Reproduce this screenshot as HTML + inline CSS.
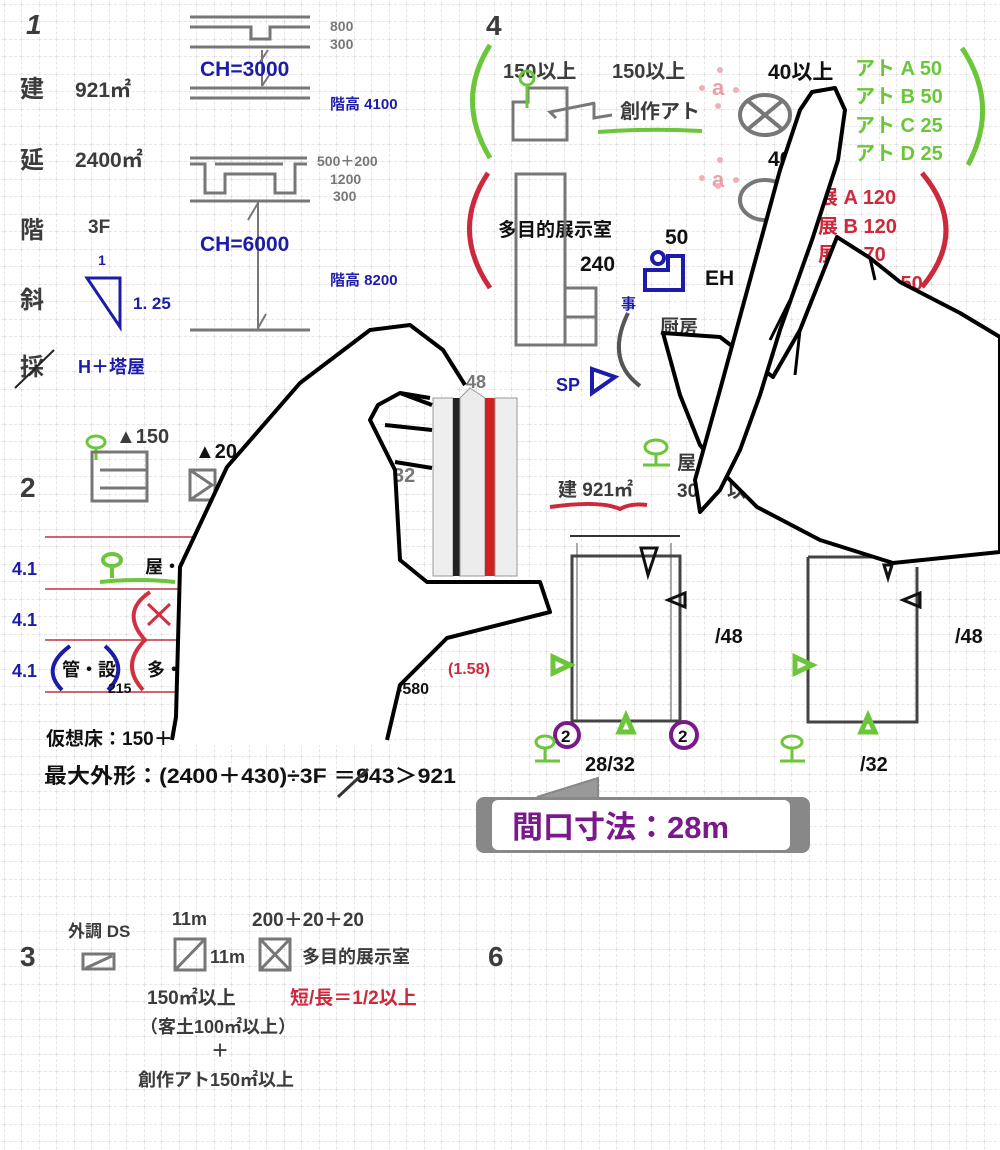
<!DOCTYPE html>
<html><head><meta charset="utf-8"><style>
html,body{margin:0;padding:0;background:#fff}
svg{display:block}
text{font-family:"Liberation Sans","Noto Sans CJK JP",sans-serif;font-weight:bold}
.d{fill:#3c3c3c}.b{fill:#1c1ca8}.g{fill:#6cc63a}.r{fill:#cc2a3c}.k{fill:#111}
.ln{stroke:#777;stroke-width:3;fill:none}
</style></head><body>
<svg width="1000" height="1150" viewBox="0 0 1000 1150" xmlns="http://www.w3.org/2000/svg">
<defs>
<pattern id="grid" x="4" y="4" width="17.5" height="17.5" patternUnits="userSpaceOnUse">
<path d="M0 0H17.5M0 0V17.5" stroke="#cfcfcf" stroke-width="1" stroke-dasharray="3 2" fill="none"/>
</pattern>
</defs>
<rect width="1000" height="1150" fill="#fff"/>
<rect width="1000" height="1150" fill="url(#grid)"/>

<!-- Section 1 -->
<text x="26" y="34" font-size="28" class="d" font-style="italic">1</text>
<text x="20" y="97" font-size="24" class="d">建</text><text x="75" y="97" font-size="21" class="d">921㎡</text>
<text x="20" y="168" font-size="24" class="d">延</text><text x="75" y="167" font-size="21" class="d">2400㎡</text>
<text x="20" y="238" font-size="24" class="d">階</text><text x="88" y="233" font-size="19" class="d">3F</text>
<text x="20" y="308" font-size="24" class="d">斜</text>
<text x="98" y="265" font-size="14" class="b">1</text>
<polygon points="87,278 120,278 120,327" fill="none" stroke="#1c1ca8" stroke-width="3"/>
<text x="133" y="309" font-size="17" class="b">1. 25</text>
<text x="20" y="375" font-size="24" class="d">採</text>
<line x1="15" y1="388" x2="54" y2="350" stroke="#222" stroke-width="2"/>
<text x="78" y="373" font-size="18" class="b">H＋塔屋</text>

<path class="ln" d="M190 17H310M190 27H251V39H270V27H310M190 47H310M190 88H310M190 98H310"/>
<path d="M268 50L260 62M262 50V86M262 86L270 74" stroke="#777" stroke-width="2" fill="none"/>
<text x="200" y="76" font-size="21" class="b">CH=3000</text>
<text x="330" y="31" font-size="14" fill="#777" font-weight="bold">800</text>
<text x="330" y="49" font-size="14" fill="#777" font-weight="bold">300</text>
<text x="330" y="109" font-size="15" class="b">階高 4100</text>

<path class="ln" d="M190 158H307M215 164H283M190 164H205V193H225V174H275V193H295V164H307M190 201H310M190 330H310"/>
<path d="M258 201V330M258 203L248 220M258 328L266 314" stroke="#777" stroke-width="2" fill="none"/>
<text x="200" y="251" font-size="21" class="b">CH=6000</text>
<text x="317" y="166" font-size="14" fill="#777" font-weight="bold">500＋200</text>
<text x="330" y="184" font-size="14" fill="#777" font-weight="bold">1200</text>
<text x="333" y="201" font-size="14" fill="#777" font-weight="bold">300</text>
<text x="330" y="285" font-size="15" class="b">階高 8200</text>

<!-- Section 4 -->
<text x="486" y="35" font-size="28" class="d">4</text>
<path d="M490 45Q455 100 490 158" stroke="#6cc63a" stroke-width="5" fill="none"/>
<path d="M962 48Q1000 105 968 165" stroke="#6cc63a" stroke-width="5" fill="none"/>
<path d="M488 173Q450 230 490 288" stroke="#cc2a3c" stroke-width="5" fill="none"/>
<path d="M922 173Q970 230 922 287" stroke="#cc2a3c" stroke-width="5" fill="none"/>
<text x="503" y="78" font-size="20" class="d">150以上</text>
<text x="612" y="78" font-size="20" class="d">150以上</text>
<path class="ln" d="M528 88H567V140H513V102H528Z"/>
<path d="M520 78a7 7 0 1 0 14 0a7 7 0 1 0 -14 0M527 85V108" stroke="#6cc63a" stroke-width="3" fill="none"/>
<path d="M595 103L550 112L556 118M594 103V118L612 115" class="ln"/>
<text x="620" y="118" font-size="20" class="d">創作アト</text>
<path d="M598 132Q650 128 702 131" stroke="#6cc63a" stroke-width="4" fill="none"/>
<text x="712" y="95" font-size="22" fill="#e8a0a8" font-weight="bold">a</text>
<circle cx="702" cy="88" r="3" fill="#f0b0b8"/><circle cx="720" cy="70" r="3" fill="#f0b0b8"/><circle cx="736" cy="90" r="3" fill="#f0b0b8"/><circle cx="718" cy="106" r="3" fill="#f0b0b8"/>
<ellipse cx="765" cy="115" rx="25" ry="20" stroke="#777" stroke-width="4" fill="none"/>
<path d="M748 101L782 129M782 101L748 129" stroke="#777" stroke-width="4"/>
<text x="768" y="79" font-size="21" class="k">40以上</text>
<text x="855" y="75" font-size="20" class="g">アト A 50</text>
<text x="855" y="103" font-size="20" class="g">アト B 50</text>
<text x="855" y="132" font-size="20" class="g">アト C 25</text>
<text x="855" y="160" font-size="20" class="g">アト D 25</text>
<text x="768" y="166" font-size="21" class="k">40以上</text>
<text x="712" y="187" font-size="22" fill="#e8a0a8" font-weight="bold">a</text>
<circle cx="702" cy="178" r="3" fill="#f0b0b8"/><circle cx="720" cy="160" r="3" fill="#f0b0b8"/><circle cx="736" cy="180" r="3" fill="#f0b0b8"/><circle cx="718" cy="186" r="3" fill="#f0b0b8"/>
<ellipse cx="765" cy="200" rx="25" ry="20" stroke="#777" stroke-width="4" fill="none"/>
<text x="818" y="204" font-size="20" class="r">展 A 120</text>
<text x="818" y="233" font-size="20" class="r">展 B 120</text>
<text x="818" y="261" font-size="20" class="r">展 C 70</text>
<text x="855" y="290" font-size="20" class="r">展 D 50</text>
<text x="498" y="236" font-size="19" class="k">多目的展示室</text>
<path class="ln" d="M516 174H565V345H516ZM566 288H596V345H566M566 317H596"/>
<text x="665" y="244" font-size="21" class="k">50</text>
<text x="580" y="271" font-size="21" class="k">240</text>
<circle cx="658" cy="258" r="6" stroke="#1c1ca8" stroke-width="4" fill="none"/>
<path d="M645 270H668V256H683V290H645Z" stroke="#1c1ca8" stroke-width="4" fill="none"/>
<text x="705" y="285" font-size="21" class="k">EH</text>
<text x="621" y="309" font-size="15" class="b">事</text>
<path d="M628 313Q605 360 640 386" stroke="#555" stroke-width="4" fill="none"/>
<text x="660" y="333" font-size="19" class="d">厨房</text>
<text x="556" y="391" font-size="18" class="b">SP</text>
<polygon points="592,369 615,377 592,393" fill="none" stroke="#1c1ca8" stroke-width="4"/>

<!-- Section 2 -->
<text x="20" y="497" font-size="28" class="d">2</text>
<path d="M87 442a9 6 0 1 0 18 0a9 6 0 1 0 -18 0M96 448V460" stroke="#6cc63a" stroke-width="3" fill="none"/>
<text x="116" y="443" font-size="20" class="d">▲150</text>
<path class="ln" d="M92 452H147V501H92ZM100 470H147M100 488H147"/>
<text x="195" y="458" font-size="20" class="k">▲20</text>
<path class="ln" d="M190 470H215V500H190ZM190 470L212 485L190 500"/>
<text x="393" y="482" font-size="20" fill="#777" font-weight="bold">32</text>
<path d="M45 537H200M45 589H200M45 640H200M45 692H200" stroke="#c03040" stroke-width="1.5"/>
<text x="12" y="575" font-size="18" class="b">4.1</text>
<text x="12" y="626" font-size="18" class="b">4.1</text>
<text x="12" y="677" font-size="18" class="b">4.1</text>
<path d="M103 560a9 6 0 1 0 18 0a9 6 0 1 0 -18 0M112 566V578M100 582Q140 578 175 582" stroke="#6cc63a" stroke-width="4" fill="none"/>
<text x="145" y="573" font-size="18" class="k">屋・</text>
<path d="M150 592Q120 612 145 640Q120 665 143 690" stroke="#d03040" stroke-width="4" fill="none"/>
<path d="M148 604L170 625M170 604L148 625" stroke="#d03040" stroke-width="3"/>
<path d="M70 646Q40 668 62 690" stroke="#1c1ca8" stroke-width="4" fill="none"/>
<path d="M105 646Q130 668 108 690" stroke="#1c1ca8" stroke-width="4" fill="none"/>
<text x="62" y="676" font-size="18" class="k">管・設</text>
<text x="108" y="693" font-size="14" class="k">215</text>
<text x="147" y="676" font-size="18" class="k">多・展</text>
<text x="448" y="674" font-size="16" class="r">(1.58)</text>
<text x="393" y="694" font-size="16" class="k">=580</text>
<text x="46" y="745" font-size="19" class="k">仮想床：150＋200</text>
<text x="362" y="745" font-size="19" class="k">0</text>
<text x="44" y="783" font-size="21" class="k" textLength="412" lengthAdjust="spacingAndGlyphs">最大外形：(2400＋430)÷3F ＝943＞921</text>
<line x1="338" y1="797" x2="368" y2="769" stroke="#333" stroke-width="3"/>

<!-- Section 5 right -->
<path d="M645 447a11 7 0 1 0 22 0a11 7 0 1 0 -22 0M656 453V464M643 465H670" stroke="#6cc63a" stroke-width="3" fill="none"/>
<text x="677" y="469" font-size="19" class="d">屋</text>
<text x="677" y="497" font-size="19" class="d">30</text>
<text x="727" y="497" font-size="19" class="d">以</text>
<text x="558" y="496" font-size="19" class="d">建 921㎡</text>
<path d="M550 507Q600 500 620 509Q630 503 647 505" stroke="#cc2a3c" stroke-width="4" fill="none"/>
<path d="M570 536H680" stroke="#333" stroke-width="2"/>
<path d="M577 543V720M671 543V720" stroke="#aaa" stroke-width="2"/>
<path d="M572 556H680V721H572Z" stroke="#444" stroke-width="3" fill="none"/>
<polygon points="641,548 657,548 648,575" fill="none" stroke="#111" stroke-width="3"/>
<polygon points="668,600 685,593 685,607" fill="none" stroke="#111" stroke-width="3"/>
<text x="715" y="643" font-size="20" class="k">/48</text>
<polygon points="553,657 570,665 553,673" fill="none" stroke="#6cc63a" stroke-width="5"/>
<polygon points="626,716 633,732 619,732" fill="none" stroke="#6cc63a" stroke-width="5"/>
<circle cx="567" cy="735" r="12" stroke="#7a1a8a" stroke-width="4" fill="none"/>
<text x="561" y="742" font-size="17" class="k">2</text>
<circle cx="684" cy="735" r="13" stroke="#7a1a8a" stroke-width="4" fill="none"/>
<text x="678" y="742" font-size="17" class="k">2</text>
<path d="M536 742a9 6 0 1 0 18 0a9 6 0 1 0 -18 0M545 748V760M535 761H560" stroke="#6cc63a" stroke-width="3" fill="none"/>
<text x="585" y="771" font-size="20" class="k">28/32</text>
<path d="M808 557H890M808 557V722H917V567" stroke="#444" stroke-width="3" fill="none"/>
<polygon points="884,565 892,565 888,578" fill="none" stroke="#111" stroke-width="3"/>
<polygon points="903,600 920,593 920,607" fill="none" stroke="#111" stroke-width="3"/>
<text x="955" y="643" font-size="20" class="k">/48</text>
<polygon points="795,657 812,665 795,673" fill="none" stroke="#6cc63a" stroke-width="5"/>
<polygon points="868,716 875,732 861,732" fill="none" stroke="#6cc63a" stroke-width="5"/>
<path d="M782 742a10 6 0 1 0 20 0a10 6 0 1 0 -20 0M792 748V760M780 761H805" stroke="#6cc63a" stroke-width="3" fill="none"/>
<text x="860" y="771" font-size="20" class="k">/32</text>
<path d="M537 797L598 778V797" fill="#999" stroke="#888" stroke-width="2"/>
<rect x="476" y="797" width="334" height="56" rx="8" fill="#888"/>
<rect x="492" y="800" width="298" height="50" rx="6" fill="#fff"/>
<text x="512" y="838" font-size="31" fill="#7a1a8a" font-weight="bold">間口寸法：28m</text>

<!-- Section 3 -->
<text x="20" y="966" font-size="28" class="d">3</text>
<text x="68" y="937" font-size="17" class="d">外調 DS</text>
<path class="ln" d="M83 954H114V969H83ZM86 968L112 956"/>
<text x="172" y="925" font-size="18" class="d">11m</text>
<path class="ln" d="M175 939H205V970H175ZM176 969L204 940"/>
<text x="210" y="963" font-size="18" class="d">11m</text>
<text x="252" y="926" font-size="19" class="d">200＋20＋20</text>
<path class="ln" d="M260 939H290V970H260ZM261 940L289 969M289 940L261 969"/>
<text x="302" y="963" font-size="18" class="d">多目的展示室</text>
<text x="488" y="966" font-size="28" class="d">6</text>
<text x="147" y="1004" font-size="19" class="d">150㎡以上</text>
<text x="290" y="1004" font-size="19" class="r">短/長＝1/2以上</text>
<text x="140" y="1033" font-size="18" class="d">（客土100㎡以上）</text>
<text x="211" y="1057" font-size="18" class="d">＋</text>
<text x="138" y="1086" font-size="18" class="d">創作アト150㎡以上</text>

<!-- Ruler -->
<rect x="433" y="398" width="84" height="178" fill="#d8d8d8"/>
<rect x="433" y="398" width="20" height="178" fill="#eeeeee" stroke="#999"/>
<rect x="453" y="398" width="7" height="178" fill="#222"/>
<polygon points="460,398 470,388 485,398 485,576 460,576" fill="#ececec" stroke="#999"/>
<rect x="485" y="398" width="10" height="178" fill="#d02020"/>
<rect x="495" y="398" width="22" height="178" fill="#eee" stroke="#999"/>
<text x="466" y="388" font-size="18" fill="#777" font-weight="bold">48</text>

<!-- Left hand -->
<path d="M172 745L176 717L180 567L227 467L300 383L370 330L410 325L443 350L465 385L430 398L400 393L378 405L370 420L395 470L400 560L427 582L540 582L550 612L447 638L400 685L387 745Z" fill="#fff"/>
<path d="M172 740L176 717L180 567L227 467L300 383L370 330L410 325L443 350L465 385M430 398L400 393L378 405L370 420L395 470L400 560L427 582L540 582L550 612L447 638L400 685L387 740M400 393L432 405M385 425L432 430M395 462L432 468" stroke="#000" stroke-width="4" fill="none" stroke-linejoin="round"/>

<!-- Right hand + pen -->
<path d="M663 333L720 337L773 377L800 330L837 237L870 258L900 282L960 313L1000 337L1000 552L893 563L820 540L757 507L720 470L700 445L680 395Z" fill="#fff" stroke="#000" stroke-width="4" stroke-linejoin="round"/>
<path d="M812 92L835 88L845 110L838 160L812 240L780 330L760 395L740 450L720 490L700 512L695 480L720 390L750 280L780 170L800 110Z" fill="#fff" stroke="#000" stroke-width="4" stroke-linejoin="round"/>
<path d="M870 258L875 280M800 330L795 375M790 300L770 340" stroke="#000" stroke-width="3" fill="none"/>
</svg>
</body></html>
